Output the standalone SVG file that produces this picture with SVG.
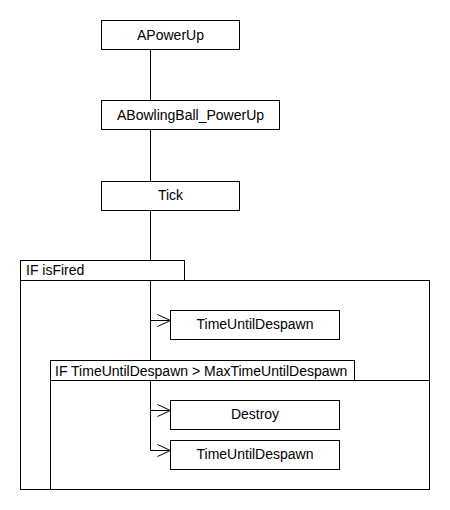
<svg xmlns="http://www.w3.org/2000/svg" width="450" height="510" viewBox="0 0 450 510">
  <style>
    .box { fill: #ffffff; stroke: #000000; stroke-width: 1; }
    .frame { fill: none; stroke: #000000; stroke-width: 1; }
    .tab { fill: #ffffff; stroke: #000000; stroke-width: 1; }
    .lbl { font-family: "Liberation Sans", Arial, sans-serif; font-size: 14px; fill: #000000; }
    .mid { text-anchor: middle; }
    .conn { fill: none; stroke: #000000; stroke-width: 1; }
  </style>
  <defs>
    <marker id="open" markerUnits="userSpaceOnUse" markerWidth="15" markerHeight="14" refX="13" refY="6" orient="auto" overflow="visible">
      <path d="M0,0 L13,6 L0,12" fill="none" stroke="#000000" stroke-width="1"/>
    </marker>
  </defs>
  <rect width="450" height="510" fill="#ffffff"/>

  <g id="frame-isFired">
    <rect class="frame" x="20.5" y="280.5" width="409" height="209"/>
    <rect class="tab" x="20.5" y="260.5" width="164" height="20"/>
    <text class="lbl" x="26" y="275">IF isFired</text>
  </g>
  <g id="frame-despawn">
    <rect class="frame" x="50.5" y="380.5" width="379" height="109"/>
    <rect class="tab" x="50.5" y="360.5" width="304" height="20"/>
    <text class="lbl" x="55" y="376">IF TimeUntilDespawn &gt; MaxTimeUntilDespawn</text>
  </g>

  <g id="connectors">
    <path class="conn" d="M150.5,49.5 V100.5"/>
    <path class="conn" d="M150.5,129.5 V181.5"/>
    <path class="conn" d="M150.5,210.5 V260.5"/>
    <path class="conn" d="M150.5,280.5 V360.5"/>
    <path class="conn" d="M150.5,380.5 V450.5"/>
    <path class="conn" d="M150.5,320.5 H170.5" marker-end="url(#open)"/>
    <path class="conn" d="M150.5,410.5 H170.5" marker-end="url(#open)"/>
    <path class="conn" d="M150.5,450.5 H170.5" marker-end="url(#open)"/>
  </g>

  <g id="node-APowerUp">
    <rect class="box" x="101.5" y="20.5" width="138" height="29"/>
    <text class="lbl mid" x="170.5" y="40">APowerUp</text>
  </g>
  <g id="node-ABowlingBall_PowerUp">
    <rect class="box" x="101.5" y="100.5" width="178" height="29"/>
    <text class="lbl mid" x="190.5" y="120">ABowlingBall_PowerUp</text>
  </g>
  <g id="node-Tick">
    <rect class="box" x="101.5" y="181.5" width="138" height="29"/>
    <text class="lbl mid" x="170.5" y="200">Tick</text>
  </g>
  <g id="node-TimeUntilDespawn1">
    <rect class="box" x="170.5" y="310.5" width="169" height="29"/>
    <text class="lbl mid" x="255" y="329">TimeUntilDespawn</text>
  </g>
  <g id="node-Destroy">
    <rect class="box" x="170.5" y="400.5" width="169" height="29"/>
    <text class="lbl mid" x="255" y="419">Destroy</text>
  </g>
  <g id="node-TimeUntilDespawn2">
    <rect class="box" x="170.5" y="440.5" width="169" height="29"/>
    <text class="lbl mid" x="255" y="459">TimeUntilDespawn</text>
  </g>
</svg>
